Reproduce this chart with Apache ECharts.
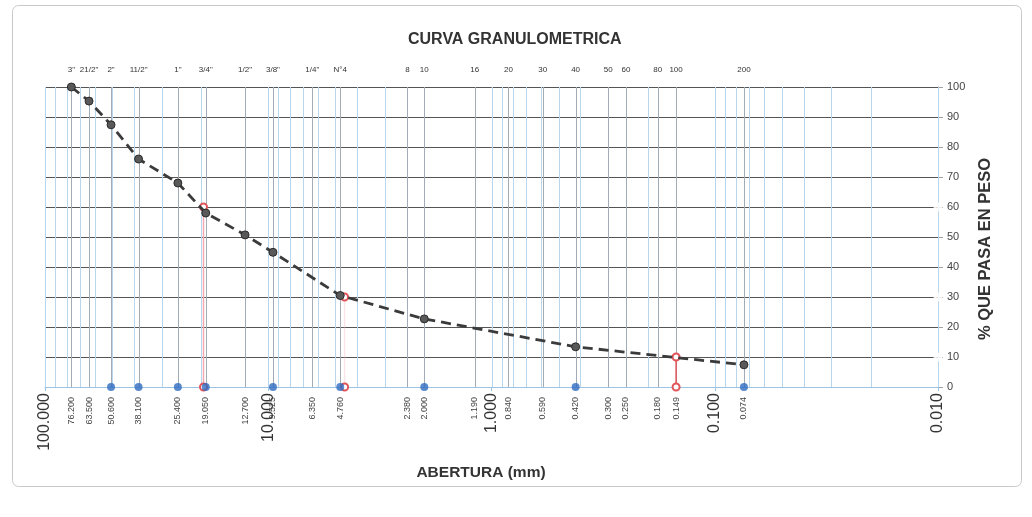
<!DOCTYPE html>
<html>
<head>
<meta charset="utf-8">
<script src="https://cdn.jsdelivr.net/npm/echarts@6/dist/echarts.min.js"></script>
<style>
  html, body { margin: 0; padding: 0; background: #fff; }
  #chart { width: 1032px; height: 517px; }
</style>
</head>
<body>
<div id="chart"></div>
<script>
// Sieve series (ASTM) – names along the top, openings in mm along the bottom
const sieveNames = ['3"', '21/2"', '2"', '11/2"', '1"', '3/4"', '1/2"', '3/8"', '1/4"', 'N°4',
  '8', '10', '16', '20', '30', '40', '50', '60', '80', '100', '200'];
const sieveOpenings = [76.2, 63.5, 50.6, 38.1, 25.4, 19.05, 12.7, 9.525, 6.35, 4.76,
  2.38, 2.0, 1.19, 0.84, 0.59, 0.42, 0.30, 0.25, 0.18, 0.149, 0.074];
const sieveLabels = ['76.200', '63.500', '50.600', '38.100', '25.400', '19.050', '12.700', '9.525', '6.350', '4.760',
  '2.380', '2.000', '1.190', '0.840', '0.590', '0.420', '0.300', '0.250', '0.180', '0.149', '0.074'];

// Grading curve of the sample: opening (mm) and % passing
const testOpenings = [76.2, 63.5, 50.6, 38.1, 25.4, 19.05, 12.7, 9.525, 4.76, 2.0, 0.42, 0.074];
const testPassing = [100, 95.3, 87.4, 76, 68, 58, 50.7, 44.9, 30.5, 22.7, 13.4, 7.4];

// Sieves actually used, marked on the base line
const usedOpenings = [50.6, 38.1, 25.4, 19.05, 9.525, 4.76, 2.0, 0.42, 0.074];

// Characteristic diameters D60, D30, D10
const dPercents = [60, 30, 10];
const dSizes = [19.5, 4.55, 0.149];
const dColors = ['#f2a9b3', 'rgba(240,184,190,0.35)', '#e0555a'];

const FONT = '"Liberation Sans", Arial, sans-serif';

// Log paper grid: 1..9 x each decade
const logGrid = [];
for (let k = -2; k <= 1; k++) {
  for (let m = 1; m <= 9; m++) logGrid.push(m * Math.pow(10, k));
}
logGrid.push(100);

function renderLogGrid(params, api) {
  const x = api.value(0);
  const b = api.coord([x, 0]);
  const t = api.coord([x, 100]);
  return {
    type: 'line',
    shape: { x1: Math.round(b[0]) + 0.5, y1: b[1], x2: Math.round(t[0]) + 0.5, y2: t[1] },
    style: { stroke: '#b9d7ec', lineWidth: 1 }
  };
}

function renderSieve(params, api) {
  const i = params.dataIndex;
  const x = api.value(0);
  const b = api.coord([x, 0]);
  const t = api.coord([x, 100]);
  return {
    type: 'group',
    children: [
      {
        type: 'line',
        shape: { x1: Math.round(b[0]) + 0.5, y1: b[1], x2: Math.round(t[0]) + 0.5, y2: t[1] },
        style: { stroke: '#a3acb4', lineWidth: 1 }
      },
      {
        type: 'text', x: t[0], y: t[1] - 17,
        style: { text: sieveNames[i], fontSize: 8, fontFamily: FONT, fill: '#333',
          align: 'center', verticalAlign: 'middle' }
      },
      {
        type: 'text', x: b[0], y: b[1] + 10, rotation: Math.PI / 2,
        style: { text: sieveLabels[i], fontSize: 9, fontFamily: FONT, fill: '#444',
          align: 'right', verticalAlign: 'middle' }
      }
    ]
  };
}

const series = [
  {
    type: 'custom', name: 'logGrid', z: 1, silent: true,
    renderItem: renderLogGrid,
    data: logGrid.map(v => [v, 0])
  },
  {
    type: 'custom', name: 'sieves', z: 2, silent: true,
    renderItem: renderSieve,
    data: sieveOpenings.map(v => [v, 0])
  }
];

// drop lines for D60 / D30 / D10 and their marks on the % axis
dSizes.forEach((d, i) => {
  series.push({
    type: 'line', z: 4, clip: false,
    data: [[d, dPercents[i]], [d, 0]],
    symbol: 'emptyCircle', symbolSize: 7,
    lineStyle: { color: dColors[i], width: 1.5 },
    itemStyle: { color: '#e0555a', borderColor: '#e0555a', borderWidth: 1.2 }
  });
});
series.push({
  type: 'scatter', z: 6, clip: false,
  data: dPercents.map(p => [0.01, p]),
  symbol: 'emptyCircle', symbolSize: 7,
  itemStyle: { color: '#fff', borderColor: '#e0555a', borderWidth: 1.5 }
});

series.push({
  type: 'scatter', z: 5, clip: false,
  data: usedOpenings.map(v => [v, 0]),
  symbol: 'circle', symbolSize: 8,
  itemStyle: { color: '#2f6cc0' }
});

series.push({
  type: 'line', z: 7, clip: false,
  data: testOpenings.map((x, i) => [x, testPassing[i]]),
  symbol: 'circle', symbolSize: 8,
  lineStyle: { color: '#3b3b3b', width: 2.8, type: [10, 6] },
  itemStyle: { color: '#595959', borderColor: '#2b2b2b', borderWidth: 1 }
});

const chart = echarts.init(document.getElementById('chart'), null, { renderer: 'canvas' });
chart.setOption({
  animation: false,
  backgroundColor: '#ffffff',
  title: {
    text: 'CURVA GRANULOMETRICA',
    left: 403, top: 27,
    textStyle: { fontSize: 16, fontWeight: 'bold', color: '#333', fontFamily: FONT }
  },
  grid: { left: 45, right: 94, top: 87, bottom: 130 },
  xAxis: {
    type: 'log', logBase: 10, min: 0.01, max: 100, inverse: true,
    axisLine: { show: true, lineStyle: { color: '#9cc4e2', width: 1 } },
    axisTick: { show: true, length: 4, lineStyle: { color: '#9cc4e2' } },
    splitLine: { show: false },
    axisLabel: {
      rotate: 90, margin: 6, fontSize: 16, color: '#333', fontFamily: FONT,
      formatter: v => Number(v).toFixed(3)
    }
  },
  yAxis: {
    type: 'value', position: 'right', min: 0, max: 100, interval: 10,
    axisLine: { show: true, lineStyle: { color: '#a0a0a0' } },
    axisTick: { show: true, length: 5, lineStyle: { color: '#a0a0a0' } },
    splitLine: { show: true, lineStyle: { color: '#555', width: 1 } },
    axisLabel: { margin: 9, fontSize: 11, color: '#444', fontFamily: FONT }
  },
  graphic: [
    {
      type: 'rect', z: -10, silent: true,
      shape: { x: 12.5, y: 5.5, width: 1009, height: 481, r: 6 },
      style: { fill: 'none', stroke: '#c9c9c9', lineWidth: 1 }
    },
    {
      type: 'text', x: 481, y: 473, silent: true,
      style: { text: 'ABERTURA (mm)', font: 'bold 15.5px ' + FONT, fill: '#333',
        align: 'center', verticalAlign: 'middle', textAlign: 'center', textVerticalAlign: 'middle' }
    },
    {
      type: 'text', x: 985, y: 249, rotation: Math.PI / 2, silent: true,
      style: { text: '% QUE PASA EN PESO', font: 'bold 16.5px ' + FONT, fill: '#333',
        align: 'center', verticalAlign: 'middle', textAlign: 'center', textVerticalAlign: 'middle' }
    }
  ],
  series: series
});
</script>
</body>
</html>
